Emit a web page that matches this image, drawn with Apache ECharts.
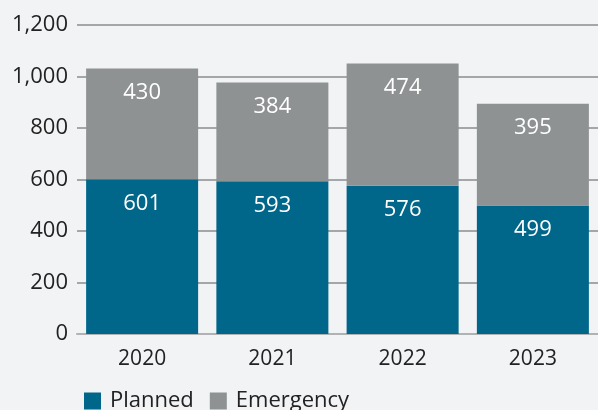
<!DOCTYPE html>
<html>
<head>
<meta charset="utf-8">
<script src="https://cdn.jsdelivr.net/npm/echarts@6/dist/echarts.min.js"></script>
<style>
  html, body { margin: 0; padding: 0; background: #f2f3f5; }
  #chart { width: 598px; height: 410px; }
</style>
</head>
<body>
<div id="chart"></div>
<script>
var years = ['2020', '2021', '2022', '2023'];
var planned = [601, 593, 576, 499];
var emergency = [430, 384, 474, 395];

var myChart = echarts.init(document.getElementById('chart'));
var font = 'Open Sans';

var option = {
    backgroundColor: '#f2f3f5',
    textStyle: { fontFamily: font },
    grid: { left: 77, right: 0, top: 25, bottom: 76 },
    legend: {
        top: 385,
        left: 79,
        itemWidth: 17,
        itemHeight: 17,
        itemGap: 16,
        icon: 'rect',
        textStyle: { fontSize: 22, color: '#222', fontFamily: font, padding: [0, 0, 0, 4] },
        data: ['Planned', 'Emergency']
    },
    xAxis: {
        type: 'category',
        data: years,
        axisLine: { show: true, lineStyle: { color: '#b0b2b4', width: 2 } },
        axisTick: { show: false },
        axisLabel: { fontSize: 21, color: '#222', margin: 15, fontFamily: font }
    },
    yAxis: {
        type: 'value',
        min: 0,
        max: 1200,
        interval: 200,
        axisLine: { show: false },
        axisTick: { show: false },
        axisLabel: {
            fontSize: 22, color: '#222', margin: 9, fontFamily: font,
            formatter: function (v) { return v.toLocaleString('en-US'); }
        },
        splitLine: { lineStyle: { color: '#8a8c8e', width: 1.5 } }
    },
    series: [
        {
            name: 'Planned',
            type: 'bar',
            stack: 'total',
            data: planned,
            barCategoryGap: '14%',
            itemStyle: { color: '#00668a' },
            label: {
                show: true, position: 'insideTop', distance: 13,
                color: '#fff', fontSize: 22, fontFamily: font
            }
        },
        {
            name: 'Emergency',
            type: 'bar',
            stack: 'total',
            data: emergency,
            itemStyle: { color: '#8f9293' },
            label: {
                show: true, position: 'insideTop', distance: 13,
                color: '#fff', fontSize: 22, fontFamily: font
            }
        }
    ]
};

myChart.setOption(option);
</script>
</body>
</html>
